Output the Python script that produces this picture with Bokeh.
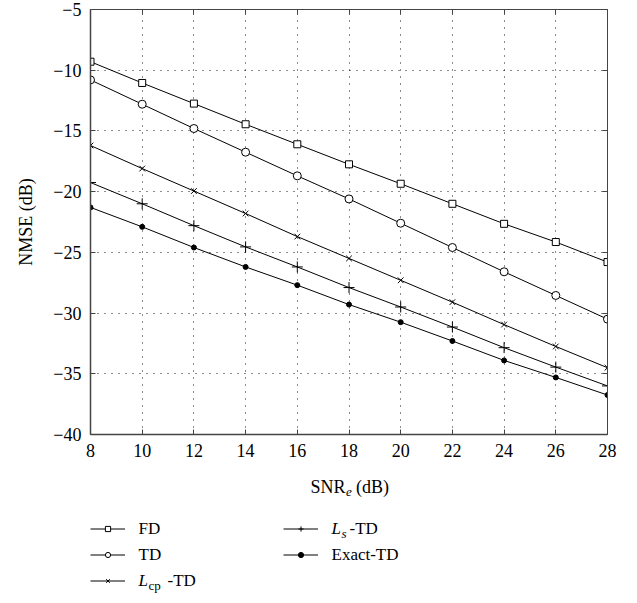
from bokeh.plotting import figure
from bokeh.models import (Range1d, FixedTicker, LinearAxis, Legend, LegendItem, Label)
from bokeh.layouts import column
from bokeh.embed import file_html
from bokeh.resources import INLINE

# ---------------- data ----------------
snr = [8, 10, 12, 14, 16, 18, 20, 22, 24, 26, 28]
nmse_fd = [-9.3, -11.05, -12.75, -14.45, -16.1, -17.75, -19.35, -21.0, -22.65, -24.15, -25.8]
nmse_td = [-10.8, -12.8, -14.8, -16.75, -18.7, -20.6, -22.6, -24.6, -26.6, -28.55, -30.5]
nmse_lcp = [-16.2, -18.1, -19.95, -21.8, -23.7, -25.5, -27.3, -29.1, -30.95, -32.75, -34.5]
nmse_ls = [-19.25, -21.0, -22.8, -24.55, -26.2, -27.9, -29.5, -31.15, -32.85, -34.45, -36.0]
nmse_exact = [-21.3, -22.9, -24.6, -26.2, -27.7, -29.3, -30.75, -32.3, -33.9, -35.3, -36.75]

xticks = [8, 10, 12, 14, 16, 18, 20, 22, 24, 26, 28]
yticks = [-40, -35, -30, -25, -20, -15, -10, -5]
ytick_labels = ["\u221240", "\u221235", "\u221230", "\u221225", "\u221220", "\u221215", "\u221210", "\u22125"]

FONT = "Liberation Serif"
INK = "#000000"
AXC = "#444444"

W_LEFT, W_FRAME, W_RIGHT = 90, 517, 20

p = figure(frame_width=W_FRAME, frame_height=425, output_backend="svg", toolbar_location=None,
           x_range=Range1d(8, 28), y_range=Range1d(-40, -5),
           min_border_left=W_LEFT, min_border_right=W_RIGHT, min_border_top=9, min_border_bottom=32,
           background_fill_color="white", border_fill_color="white")
p.outline_line_color = None

# main axes
for ax in (p.xaxis[0], p.yaxis[0]):
    ax.major_tick_in = 5
    ax.major_tick_out = 0
    ax.minor_tick_in = 0
    ax.minor_tick_out = 0
    ax.axis_line_color = AXC
    ax.axis_line_width = 1.5
    ax.major_tick_line_color = AXC
    ax.major_label_text_font = FONT
    ax.major_label_text_font_size = "18px"
    ax.major_label_text_color = INK
    ax.major_label_standoff = 9
p.xaxis[0].ticker = FixedTicker(ticks=xticks)
p.yaxis[0].ticker = FixedTicker(ticks=yticks)
p.yaxis[0].major_label_overrides = {t: l for t, l in zip(yticks, ytick_labels)}
p.yaxis[0].axis_label = "NMSE (dB)"
p.yaxis[0].axis_label_text_font = FONT
p.yaxis[0].axis_label_text_font_size = "18px"
p.yaxis[0].axis_label_text_font_style = "normal"
p.yaxis[0].axis_label_text_color = INK
p.yaxis[0].axis_label_standoff = 14
p.xaxis[0].axis_label = None

# box axes (top/right) with inward ticks and no labels
top = LinearAxis(ticker=FixedTicker(ticks=xticks))
right = LinearAxis(ticker=FixedTicker(ticks=yticks))
top.major_label_overrides = {t: "" for t in xticks}
right.major_label_overrides = {t: "" for t in yticks}
for ax in (top, right):
    ax.major_tick_in = 5
    ax.major_tick_out = 0
    ax.minor_tick_in = 0
    ax.minor_tick_out = 0
    ax.axis_line_color = AXC
    ax.axis_line_width = 1
    ax.major_tick_line_color = AXC
    ax.major_label_standoff = 0
p.add_layout(top, "above")
p.add_layout(right, "right")

# grid
p.grid.grid_line_color = INK
p.grid.grid_line_dash = "1 6"
p.grid.grid_line_width = 1
p.grid.grid_line_alpha = 0.9
p.xgrid.ticker = FixedTicker(ticks=xticks)
p.ygrid.ticker = FixedTicker(ticks=yticks)

# series styles: values, marker, plot size, fill
series = [
    (nmse_fd, "square", 7, "white"),
    (nmse_td, "circle", 8, "white"),
    (nmse_lcp, "x", 8, "white"),
    (nmse_ls, "cross", 11, "white"),
    (nmse_exact, "circle", 5, INK),
]
for vals, mk, sz, fill in series:
    p.line(snr, vals, line_color=INK, line_width=1)
    p.scatter(snr, vals, marker=mk, size=sz, line_color=INK, fill_color=fill, line_width=1)

# ---------------- lower panel: x-axis title and legend ----------------
H2 = 135
q = figure(frame_width=W_FRAME, frame_height=H2, output_backend="svg", toolbar_location=None,
           x_range=Range1d(0, 1), y_range=Range1d(0, 1),
           min_border_left=W_LEFT, min_border_right=W_RIGHT, min_border_top=0, min_border_bottom=0,
           background_fill_color="white", border_fill_color="white")
q.axis.visible = False
q.grid.visible = False
q.outline_line_color = None

# legend proxy renderers (a single point placed outside the visible range)
legend_renderers = []
for vals, mk, sz, fill in series:
    l = q.line([-10, -11], [-10, -11], line_color=INK, line_width=1)
    s = q.scatter([-10], [-10], marker=mk, size=sz, line_color=INK, fill_color=fill, line_width=1)
    legend_renderers.append([l, s])

# legend samples only (texts are placed as labels below, for italics/subscripts)
legend_style = dict(padding=0, margin=0, spacing=13, glyph_width=35, glyph_height=13,
                    label_height=13, label_standoff=13, border_line_color=None,
                    background_fill_alpha=0, label_text_font=FONT, label_text_font_size="8px",
                    label_text_color=INK, orientation="vertical")
leg1 = Legend(items=[LegendItem(label=" ", renderers=legend_renderers[0]),
                     LegendItem(label=" ", renderers=legend_renderers[1]),
                     LegendItem(label=" ", renderers=legend_renderers[2])],
              location=(0, 14.5), **legend_style)
leg2 = Legend(items=[LegendItem(label=" ", renderers=legend_renderers[3]),
                     LegendItem(label=" ", renderers=legend_renderers[4])],
              location=(193, 40.5), **legend_style)
q.add_layout(leg1)
q.add_layout(leg2)

def lab(x, y, text, size="17px", style="normal"):
    q.add_layout(Label(x=x, y=y, x_units="screen", y_units="screen", text=text,
                       text_font=FONT, text_font_size=size, text_font_style=style,
                       text_color=INK, text_baseline="middle", text_align="left"))

# legend texts
lab(48, 73, "FD")
lab(48, 47, "TD")
lab(48, 21, "L", style="italic")
lab(58, 16, "cp", size="13px")
lab(77, 21, "-TD")
lab(241, 73, "L", style="italic")
lab(251, 68, "s", size="13px", style="italic")
lab(259, 73, "-TD")
lab(241, 47, "Exact-TD")

# x-axis title SNR_e (dB)
lab(220, 115, "SNR", size="18px")
lab(255.5, 110, "e", size="13px", style="italic")
lab(265.5, 115, "(dB)", size="18px")

layout = column(p, q, spacing=0)
open("out.html", "w").write(file_html(layout, INLINE))
